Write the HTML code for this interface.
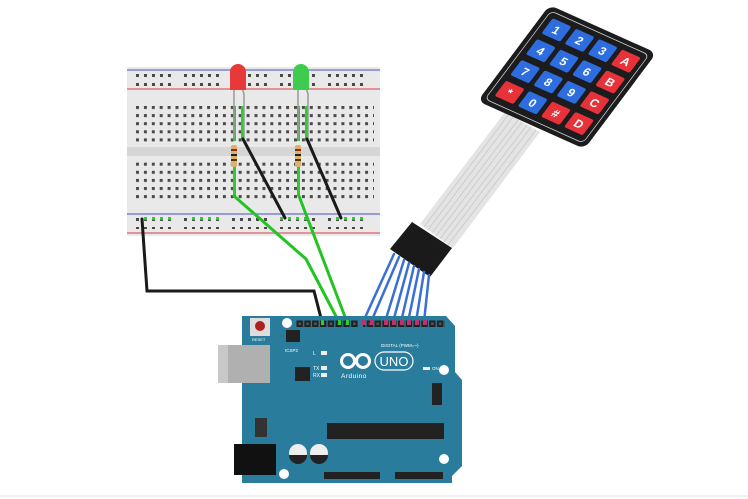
<!DOCTYPE html>
<html><head><meta charset="utf-8"><style>html,body{margin:0;padding:0;background:#fff}svg{display:block}</style></head>
<body>
<svg width="748" height="499" viewBox="0 0 748 499" xmlns="http://www.w3.org/2000/svg" font-family="Liberation Sans, sans-serif">
<defs>
<pattern id="holes" x="136" y="106" width="7.9" height="8.1" patternUnits="userSpaceOnUse"><rect x="0" y="0" width="3" height="3" fill="#4a4a4a"/></pattern>
<pattern id="rail" x="136" y="74" width="8" height="9" patternUnits="userSpaceOnUse"><rect x="0" y="0" width="3" height="3" fill="#4a4a4a"/></pattern>
<pattern id="hdr" x="296" y="320" width="7.8" height="8" patternUnits="userSpaceOnUse"><rect x="0.5" y="0.5" width="6.5" height="6.5" fill="#222"/><rect x="2.5" y="2.5" width="2.5" height="2.5" fill="#555"/></pattern>
</defs>

<!-- breadboard -->
<rect x="127" y="67" width="253" height="169" fill="#e9e9e9"/>
<line x1="127" y1="70" x2="380" y2="70" stroke="#6a6ad8" stroke-width="1.2"/>
<line x1="127" y1="89" x2="380" y2="89" stroke="#e06060" stroke-width="1.2"/>
<line x1="127" y1="214" x2="380" y2="214" stroke="#6a6ad8" stroke-width="1.2"/>
<line x1="127" y1="233" x2="380" y2="233" stroke="#e06060" stroke-width="1.2"/>
<rect x="127" y="147" width="253" height="9" fill="#d6d6d6"/>
<rect x="136" y="106" width="238" height="40" fill="url(#holes)"/>
<rect x="136" y="161" width="238" height="40" fill="url(#holes)"/>
<g fill="url(#rail)">
<rect x="136" y="74" width="40" height="12"/><rect x="184" y="74" width="40" height="12"/><rect x="232" y="74" width="40" height="12"/><rect x="280" y="74" width="40" height="12"/><rect x="328" y="74" width="40" height="12"/>
</g>
<g>
<rect x="136" y="217" width="40" height="12" fill="url(#rail)"/><rect x="184" y="217" width="40" height="12" fill="url(#rail)"/><rect x="232" y="217" width="40" height="12" fill="url(#rail)"/><rect x="280" y="217" width="40" height="12" fill="url(#rail)"/><rect x="328" y="217" width="40" height="12" fill="url(#rail)"/>
</g>
<g fill="#2ecc2e">
<rect x="144" y="217" width="3" height="3"/><rect x="152" y="217" width="3" height="3"/><rect x="160" y="217" width="3" height="3"/><rect x="168" y="217" width="3" height="3"/>
<rect x="192" y="217" width="3" height="3"/><rect x="200" y="217" width="3" height="3"/><rect x="208" y="217" width="3" height="3"/><rect x="216" y="217" width="3" height="3"/>
<rect x="280" y="217" width="3" height="3"/><rect x="288" y="217" width="3" height="3"/><rect x="296" y="217" width="3" height="3"/><rect x="304" y="217" width="3" height="3"/>
<rect x="336" y="217" width="3" height="3"/><rect x="344" y="217" width="3" height="3"/><rect x="352" y="217" width="3" height="3"/><rect x="360" y="217" width="3" height="3"/>
<rect x="233" y="106" width="3" height="35"/><rect x="241" y="106" width="3" height="35"/><rect x="297" y="106" width="3" height="35"/><rect x="305" y="106" width="3" height="35"/>
<rect x="233" y="161" width="3" height="35"/><rect x="297" y="161" width="3" height="35"/>
</g>
<g stroke="#999" stroke-width="1.5" fill="none">
<path d="M234 88 V138"/><path d="M242 88 L244 94 V138"/>
<path d="M298 88 V138"/><path d="M306 88 L308 94 V138"/>
</g>
<path d="M230 90 V72 a8 8 0 0 1 16 0 V90 Z" fill="#e8393a"/>
<path d="M293 90 V72 a8 8 0 0 1 16 0 V90 Z" fill="#3fcb4f"/>
<g>
<rect x="231" y="145" width="6" height="22" rx="2" fill="#d8b46a"/>
<rect x="231" y="149" width="6" height="2" fill="#a0201a"/><rect x="231" y="154" width="6" height="2" fill="#222"/><rect x="231" y="159" width="6" height="2" fill="#5a3010"/>
<rect x="295" y="145" width="6" height="22" rx="2" fill="#d8b46a"/>
<rect x="295" y="149" width="6" height="2" fill="#a0201a"/><rect x="295" y="154" width="6" height="2" fill="#222"/><rect x="295" y="159" width="6" height="2" fill="#5a3010"/>
</g>
<g stroke="#1a1a1a" stroke-width="3" stroke-linecap="round" fill="none">
<path d="M243 139 L285 218"/><path d="M307 139 L341 218"/>
<path d="M142 219 L147 291 L314 291 L322 322"/>
</g>
<g stroke="#22c322" stroke-width="3" stroke-linecap="round" fill="none">
<path d="M234 196 L306 259 L339 322"/><path d="M299 196 L347 322"/>
</g>

<!-- ribbon -->
<polygon points="505,112 540,132 453,248 420,224" fill="#e4e4e4"/>
<g stroke="#c8c8c8" stroke-width="0.8" fill="none">
<path d="M509 114 L424 227"/><path d="M513 117 L428 230"/><path d="M518 120 L432 233"/><path d="M522 122 L436 236"/><path d="M527 125 L440 239"/><path d="M531 127 L444 242"/><path d="M536 130 L448 245"/>
</g>
<polygon points="412,222 452,248 430,277 390,249" fill="#1a1a1a"/>
<g stroke="#3a6fd8" stroke-width="2.5" fill="none" stroke-linecap="round">
<path d="M394 254 L363 322"/><path d="M399 257 L371 322"/><path d="M404 260 L385 322"/><path d="M409 263 L393 322"/><path d="M414 266 L401 322"/><path d="M419 269 L408 322"/><path d="M424 272 L416 322"/><path d="M429 275 L424 322"/>
</g>

<!-- keypad (skewed) -->
<g transform="matrix(0.89,0.4,-0.6,0.8,567,77)">
<rect x="-60" y="-60" width="120" height="120" rx="8" fill="#1c1c1e"/>
<rect x="-55" y="-55" width="110" height="110" rx="5" fill="none" stroke="#cfcfcf" stroke-width="0.8"/>
<g font-size="12" fill="#fff" text-anchor="middle" font-weight="bold">
<rect x="-49" y="-49" width="21" height="19" rx="2" fill="#2e6de0"/><text x="-38.5" y="-35">1</text>
<rect x="-23" y="-49" width="21" height="19" rx="2" fill="#2e6de0"/><text x="-12.5" y="-35">2</text>
<rect x="3" y="-49" width="21" height="19" rx="2" fill="#2e6de0"/><text x="13.5" y="-35">3</text>
<rect x="29" y="-49" width="21" height="19" rx="2" fill="#e8323a"/><text x="39.5" y="-35">A</text>
<rect x="-49" y="-23" width="21" height="19" rx="2" fill="#2e6de0"/><text x="-38.5" y="-9">4</text>
<rect x="-23" y="-23" width="21" height="19" rx="2" fill="#2e6de0"/><text x="-12.5" y="-9">5</text>
<rect x="3" y="-23" width="21" height="19" rx="2" fill="#2e6de0"/><text x="13.5" y="-9">6</text>
<rect x="29" y="-23" width="21" height="19" rx="2" fill="#e8323a"/><text x="39.5" y="-9">B</text>
<rect x="-49" y="3" width="21" height="19" rx="2" fill="#2e6de0"/><text x="-38.5" y="17">7</text>
<rect x="-23" y="3" width="21" height="19" rx="2" fill="#2e6de0"/><text x="-12.5" y="17">8</text>
<rect x="3" y="3" width="21" height="19" rx="2" fill="#2e6de0"/><text x="13.5" y="17">9</text>
<rect x="29" y="3" width="21" height="19" rx="2" fill="#e8323a"/><text x="39.5" y="17">C</text>
<rect x="-49" y="29" width="21" height="19" rx="2" fill="#e8323a"/><text x="-38.5" y="43">*</text>
<rect x="-23" y="29" width="21" height="19" rx="2" fill="#2e6de0"/><text x="-12.5" y="43">0</text>
<rect x="3" y="29" width="21" height="19" rx="2" fill="#e8323a"/><text x="13.5" y="43">#</text>
<rect x="29" y="29" width="21" height="19" rx="2" fill="#e8323a"/><text x="39.5" y="43">D</text>
</g>
</g>

<!-- Arduino -->
<path d="M242 316 H446 L455 326 V372 L462 380 V466 L452 476 V483 H242 Z" fill="#2a7c9c"/>
<rect x="218" y="345" width="52" height="38" fill="#b0b0b0"/>
<rect x="218" y="345" width="10" height="38" fill="#c8c8c8"/>
<rect x="234" y="444" width="42" height="31" fill="#111"/>
<rect x="250" y="318" width="20" height="18" fill="#ddd"/>
<circle cx="260" cy="326" r="5" fill="#b02020"/>
<text x="252" y="341" font-size="4" fill="#fff">RESET</text>
<circle cx="287" cy="323" r="5" fill="#fff"/>
<circle cx="444" cy="370" r="5" fill="#fff"/>
<circle cx="444" cy="459" r="5" fill="#fff"/>
<circle cx="284" cy="474" r="5" fill="#fff"/>
<rect x="286" y="330" width="14" height="12" fill="#222"/>
<text x="285" y="352" font-size="4.5" fill="#fff">ICSP2</text>
<rect x="296" y="319" width="62" height="8" fill="url(#hdr)"/>
<rect x="363" y="319" width="82" height="8" fill="url(#hdr)"/>
<g fill="#c03070"><rect x="362" y="320" width="4" height="5"/><rect x="370" y="320" width="4" height="5"/><rect x="384" y="320" width="4" height="5"/><rect x="392" y="320" width="4" height="5"/><rect x="400" y="320" width="4" height="5"/><rect x="407" y="320" width="4" height="5"/><rect x="415" y="320" width="4" height="5"/><rect x="423" y="320" width="4" height="5"/></g>
<g fill="#2ecc2e"><rect x="321" y="320" width="3" height="5"/><rect x="338" y="320" width="3" height="5"/><rect x="346" y="320" width="3" height="5"/></g>
<text x="381" y="347" font-size="4.5" fill="#fff">DIGITAL (PWM=~)</text>
<rect x="321" y="351" width="6" height="4" fill="#eee"/><text x="313" y="355" font-size="5" fill="#fff">L</text>
<rect x="321" y="366" width="6" height="4" fill="#eee"/><text x="313" y="370" font-size="5" fill="#fff">TX</text>
<rect x="321" y="373" width="6" height="4" fill="#eee"/><text x="313" y="377" font-size="5" fill="#fff">RX</text>
<rect x="295" y="367" width="15" height="14" fill="#222"/>
<g fill="none" stroke="#fff" stroke-width="3"><circle cx="348" cy="361" r="6.5"/><circle cx="363" cy="361" r="6.5"/></g>
<rect x="375" y="352" width="38" height="18" rx="9" fill="none" stroke="#fff" stroke-width="1.2"/>
<text x="394" y="366" font-size="13" fill="#fff" text-anchor="middle">UNO</text>
<text x="341" y="378" font-size="6.5" fill="#fff" letter-spacing="0.5">Arduino</text>
<rect x="423" y="367" width="7" height="3" fill="#eee"/><text x="432" y="370" font-size="4.5" fill="#fff">ON</text>
<rect x="432" y="383" width="10" height="22" fill="#222"/>
<rect x="255" y="418" width="12" height="19" fill="#333"/>
<rect x="327" y="423" width="117" height="16" fill="#222"/>
<circle cx="298" cy="453" r="9" fill="#eee"/><path d="M289 455 a9 9 0 0 0 18 0 Z" fill="#222"/>
<circle cx="319" cy="453" r="9" fill="#eee"/><path d="M310 455 a9 9 0 0 0 18 0 Z" fill="#222"/>
<rect x="324" y="472" width="56" height="7" fill="#222"/>
<rect x="395" y="472" width="48" height="7" fill="#222"/>
<line x1="0" y1="496" x2="748" y2="496" stroke="#e6e6e6" stroke-width="1"/>
</svg>
</body></html>
